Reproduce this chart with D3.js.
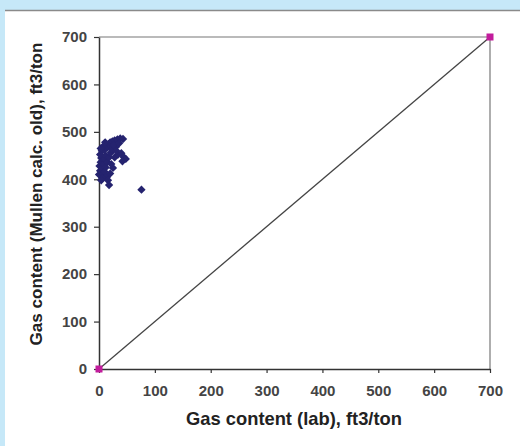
<!DOCTYPE html>
<html><head><meta charset="utf-8">
<script src="https://cdn.jsdelivr.net/npm/d3@7"></script>
<style>html,body{margin:0;padding:0;background:#c6e8f8;}svg{display:block;}</style>
</head><body>
<script>
// Data
const labX = [0,2,1,3,4,2,5,6,8,7,10,12,9,14,15,18,20,24,28,33,38,43,12,15,18,21,23,10,14,6,4,20,25,22,28,34,40,44,48,42,30,26,8,11,16,3,18,76,36,31];
const calcY = [410,418,428,436,445,452,460,422,432,412,442,450,462,466,470,474,478,480,482,484,486,485,425,436,446,456,463,416,405,402,398,412,424,432,446,452,455,447,443,438,468,472,470,478,398,465,388,378,476,460];
const refX = [0,700];
const refY = [0,700];
const xTicks = [0,100,200,300,400,500,600,700];
const yTicks = [0,100,200,300,400,500,600,700];
const xTitle = "Gas content (lab), ft3/ton";
const yTitle = "Gas content (Mullen calc. old), ft3/ton";

const W=520,H=446;
const FONT="Liberation Sans, Arial, sans-serif";
const svg=d3.select("body").append("svg").attr("width",W).attr("height",H);
svg.append("rect").attr("x",5).attr("y",10).attr("width",W-5).attr("height",H-10).attr("fill","#fff");
svg.append("line").attr("x1",5).attr("x2",W).attr("y1",10.5).attr("y2",10.5).attr("stroke","#8a8a8a").attr("stroke-width",1.5);

const x=d3.scaleLinear().domain([0,700]).range([99,490]);
const y=d3.scaleLinear().domain([0,700]).range([369,37]);

// box top/right
svg.append("line").attr("x1",x(0)).attr("x2",x(700)).attr("y1",y(700)).attr("y2",y(700)).attr("stroke","#777").attr("stroke-width",1.2);
svg.append("line").attr("x1",x(700)).attr("x2",x(700)).attr("y1",y(700)).attr("y2",y(0)).attr("stroke","#777").attr("stroke-width",1.2);

const xa=svg.append("g").attr("transform",`translate(0,${y(0)})`)
  .call(d3.axisBottom(x).tickValues(xTicks).tickSize(4).tickPadding(12).tickSizeOuter(0));
const ya=svg.append("g").attr("transform",`translate(${x(0)},0)`)
  .call(d3.axisLeft(y).tickValues(yTicks).tickSize(5).tickPadding(7).tickSizeOuter(0));
[xa,ya].forEach(g=>{
  g.select(".domain").attr("stroke","#333").attr("stroke-width",1.5);
  g.selectAll(".tick line").attr("stroke","#333").attr("stroke-width",1.2);
  g.selectAll(".tick text").attr("fill","#444").attr("font-family",FONT)
   .attr("font-weight","bold").attr("font-size",15);
});

// 1:1 line
svg.append("line").attr("x1",x(refX[0])).attr("y1",y(refY[0])).attr("x2",x(refX[1])).attr("y2",y(refY[1]))
  .attr("stroke","#444").attr("stroke-width",1.3);

// points
const pts=labX.map((v,i)=>[v,calcY[i]]);
svg.append("g").selectAll("path").data(pts).join("path")
  .attr("d",d3.symbol().type(d3.symbolDiamond2).size(44))
  .attr("transform",d=>`translate(${x(d[0])},${y(d[1])})`)
  .attr("fill","#25236f");

svg.append("g").selectAll("rect").data(refX.map((v,i)=>[v,refY[i]])).join("rect")
  .attr("x",d=>x(d[0])-3.5).attr("y",d=>y(d[1])-3.5).attr("width",7).attr("height",7)
  .attr("fill","#c21c9c");

function fit(t,w){
  let fs=14; t.attr("font-size",fs);
  const L=t.node().getComputedTextLength();
  t.attr("font-size",fs*w/L);
}
const xt=svg.append("text").attr("x",294).attr("y",425).attr("text-anchor","middle")
  .attr("font-family",FONT).attr("font-weight","bold").attr("fill","#222").text(xTitle);
fit(xt,216);
const yt=svg.append("text").attr("transform",`translate(42,194) rotate(-90)`).attr("text-anchor","middle")
  .attr("font-family",FONT).attr("font-weight","bold").attr("fill","#222").text(yTitle);
fit(yt,303);
</script>
</body></html>
